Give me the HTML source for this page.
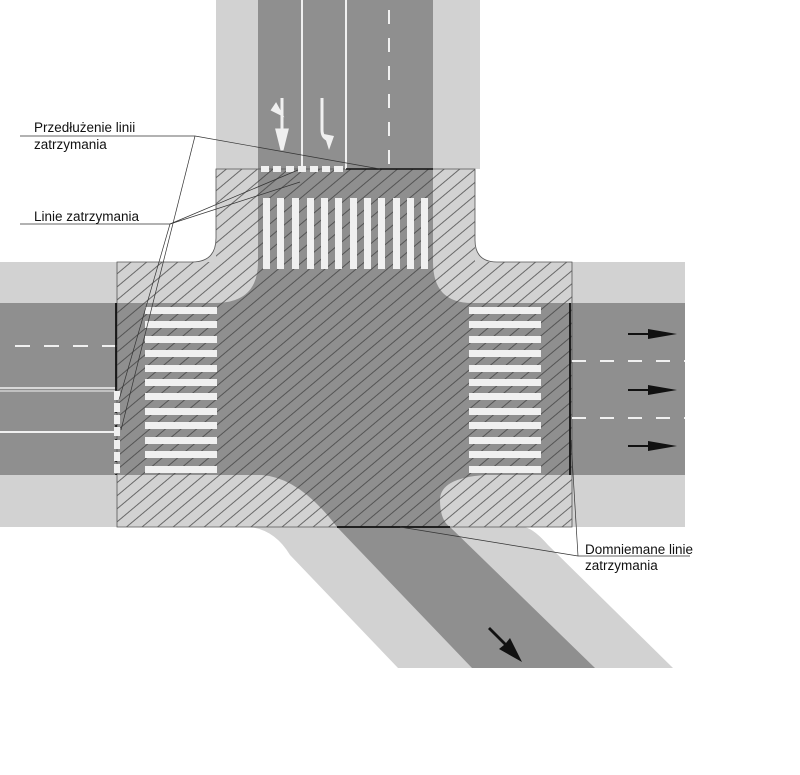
<!DOCTYPE html>
<html><head><meta charset="utf-8"><style>
html,body{margin:0;padding:0;background:#fff}
svg{display:block}
text{font-family:"Liberation Sans",sans-serif;font-size:13px;fill:#111}
</style></head><body>
<svg width="800" height="775" viewBox="0 0 800 775" xmlns="http://www.w3.org/2000/svg">
<defs>
<pattern id="h" width="10" height="10" patternUnits="userSpaceOnUse" patternTransform="rotate(-40)">
<line x1="0" y1="5" x2="10" y2="5" stroke="#3a3a3a" stroke-width="0.7"/>
</pattern>
<clipPath id="hc"><path d="M216,169 H475 V262 H572 V527 H117 V262 H216 Z"/></clipPath>
</defs>
<rect width="800" height="775" fill="#fff"/>
<!-- south diagonal road light -->
<path d="M250,527 Q275,530 290,555 L398,668 H673 L548,545 Q535,530 525,527 Z" fill="#d2d2d2"/>
<!-- south dark -->
<path d="M337,527 L472,668 H595 L450,527 Z" fill="#8f8f8f"/>
<!-- north road -->
<rect x="216" y="0" width="264" height="169" fill="#d2d2d2"/>
<rect x="258" y="0" width="175" height="169" fill="#8f8f8f"/>
<!-- horizontal roads -->
<rect x="0" y="262" width="685" height="265" fill="#d2d2d2"/>
<rect x="0" y="303" width="685" height="172" fill="#8f8f8f"/>
<!-- intersection light base -->
<path d="M216,169 H475 V240 Q475,262 497,262 H572 V527 H117 V262 H192 Q216,262 216,238 Z" fill="#d2d2d2"/>
<!-- intersection dark -->
<path d="M258,169 H433 V262 Q433,303 472,303 H572 V475 H485 Q440,478 440,500 Q440,520 450,527 H337 Q300,478 262,475 H117 V303 H215 Q258,303 258,262 Z" fill="#8f8f8f"/>
<!-- hatching -->
<rect x="100" y="160" width="480" height="380" fill="url(#h)" clip-path="url(#hc)"/>
<path d="M216,169 H475 V240 Q475,262 497,262 H572 V527 H117 V262 H192 Q216,262 216,238 Z" fill="none" stroke="#555" stroke-width="0.8"/>
<!-- north lane lines -->
<line x1="302" y1="0" x2="302" y2="166" stroke="#f0f0f0" stroke-width="2"/>
<line x1="346" y1="0" x2="346" y2="169" stroke="#f0f0f0" stroke-width="2"/>
<line x1="389" y1="10" x2="389" y2="169" stroke="#f0f0f0" stroke-width="2" stroke-dasharray="14,14"/>
<!-- north arrows -->
<path d="M282,98 V130 M282,150 L277,130 H287 Z" stroke="#f0f0f0" stroke-width="3" fill="#f0f0f0"/>
<path d="M282,115 L272,110 L276,104 Z" fill="#f0f0f0" stroke="#f0f0f0" stroke-width="2"/>
<path d="M322,98 V130 Q322,138 329,140" stroke="#f0f0f0" stroke-width="3" fill="none"/>
<path d="M329,150 L324,134 L334,136 Z" fill="#f0f0f0"/>
<!-- north stop dotted -->
<g fill="#f0f0f0"><rect x="261" y="166" width="8" height="6"/><rect x="273" y="166" width="8" height="6"/><rect x="286" y="166" width="8" height="6"/><rect x="298" y="166" width="8" height="6"/><rect x="310" y="166" width="8" height="6"/><rect x="322" y="166" width="8" height="6"/><rect x="334" y="166" width="9" height="6"/></g>
<line x1="346" y1="169" x2="433" y2="169" stroke="#111" stroke-width="1.5"/>
<!-- north crosswalk -->
<g fill="#f0f0f0">
<rect x="263" y="198" width="7" height="71"/><rect x="277" y="198" width="7" height="71"/><rect x="292" y="198" width="7" height="71"/><rect x="307" y="198" width="7" height="71"/><rect x="321" y="198" width="7" height="71"/><rect x="335" y="198" width="7" height="71"/><rect x="350" y="198" width="7" height="71"/><rect x="364" y="198" width="7" height="71"/><rect x="378" y="198" width="7" height="71"/><rect x="393" y="198" width="7" height="71"/><rect x="407" y="198" width="7" height="71"/><rect x="421" y="198" width="7" height="71"/>
</g>
<!-- west/east crosswalks -->
<g fill="#f0f0f0">
<rect x="145" y="307" width="72" height="7"/><rect x="145" y="321" width="72" height="7"/><rect x="145" y="336" width="72" height="7"/><rect x="145" y="350" width="72" height="7"/><rect x="145" y="365" width="72" height="7"/><rect x="145" y="379" width="72" height="7"/><rect x="145" y="393" width="72" height="7"/><rect x="145" y="408" width="72" height="7"/><rect x="145" y="422" width="72" height="7"/><rect x="145" y="437" width="72" height="7"/><rect x="145" y="451" width="72" height="7"/><rect x="145" y="466" width="72" height="7"/>
<rect x="469" y="307" width="72" height="7"/><rect x="469" y="321" width="72" height="7"/><rect x="469" y="336" width="72" height="7"/><rect x="469" y="350" width="72" height="7"/><rect x="469" y="365" width="72" height="7"/><rect x="469" y="379" width="72" height="7"/><rect x="469" y="393" width="72" height="7"/><rect x="469" y="408" width="72" height="7"/><rect x="469" y="422" width="72" height="7"/><rect x="469" y="437" width="72" height="7"/><rect x="469" y="451" width="72" height="7"/><rect x="469" y="466" width="72" height="7"/>
</g>
<!-- west lane markings -->
<line x1="15" y1="346" x2="117" y2="346" stroke="#f0f0f0" stroke-width="2" stroke-dasharray="15,14"/>
<line x1="0" y1="388" x2="117" y2="388" stroke="#f0f0f0" stroke-width="1.5"/>
<line x1="0" y1="391" x2="117" y2="391" stroke="#f0f0f0" stroke-width="1"/>
<line x1="0" y1="432" x2="117" y2="432" stroke="#f0f0f0" stroke-width="2"/>
<line x1="116" y1="303" x2="116" y2="390" stroke="#111" stroke-width="1.8"/>
<line x1="116" y1="390" x2="116" y2="475" stroke="#111" stroke-width="1.5" stroke-dasharray="2,5"/>
<g fill="#f0f0f0"><rect x="114" y="391" width="6" height="9"/><rect x="114" y="403" width="6" height="9"/><rect x="114" y="415" width="6" height="9"/><rect x="114" y="427" width="6" height="9"/><rect x="114" y="440" width="6" height="9"/><rect x="114" y="452" width="6" height="9"/><rect x="114" y="464" width="6" height="9"/></g>
<!-- east -->
<line x1="570" y1="303" x2="570" y2="475" stroke="#111" stroke-width="1.8"/>
<line x1="572" y1="361" x2="685" y2="361" stroke="#f0f0f0" stroke-width="2" stroke-dasharray="14,14"/>
<line x1="572" y1="418" x2="685" y2="418" stroke="#f0f0f0" stroke-width="2" stroke-dasharray="14,14"/>
<g fill="#111">
<path d="M628,333 H648 V329 L677,334 L648,339 V335 H628 Z"/>
<path d="M628,389 H648 V385 L677,390 L648,395 V391 H628 Z"/>
<path d="M628,445 H648 V441 L677,446 L648,451 V447 H628 Z"/>
<path d="M490,627 L506,643 L510,638 L522,662 L499,649 L504,645 L488,629 Z"/>
</g>
<line x1="337" y1="527" x2="450" y2="527" stroke="#111" stroke-width="1.8"/>
<!-- labels & leaders -->
<g stroke="#333" stroke-width="0.7" fill="none">
<line x1="20" y1="136" x2="195" y2="136"/>
<line x1="195" y1="136" x2="380" y2="169"/>
<line x1="195" y1="136" x2="121" y2="430"/>
<line x1="20" y1="224" x2="170" y2="224"/>
<line x1="170" y1="224" x2="298" y2="170"/>
<line x1="170" y1="224" x2="300" y2="182"/>
<line x1="170" y1="224" x2="119" y2="400"/>
<line x1="578" y1="556" x2="690" y2="556"/>
<line x1="578" y1="556" x2="400" y2="527"/>
<line x1="578" y1="556" x2="571" y2="440"/>
</g>
<text x="34" y="132" style="font-size:13.5px">Przedłużenie linii</text>
<text x="34" y="149" style="font-size:13.5px">zatrzymania</text>
<text x="34" y="221" style="font-size:13.5px">Linie zatrzymania</text>
<text x="585" y="554" style="font-size:13.5px">Domniemane linie</text>
<text x="585" y="570" style="font-size:13.5px">zatrzymania</text>
</svg>
</body></html>
